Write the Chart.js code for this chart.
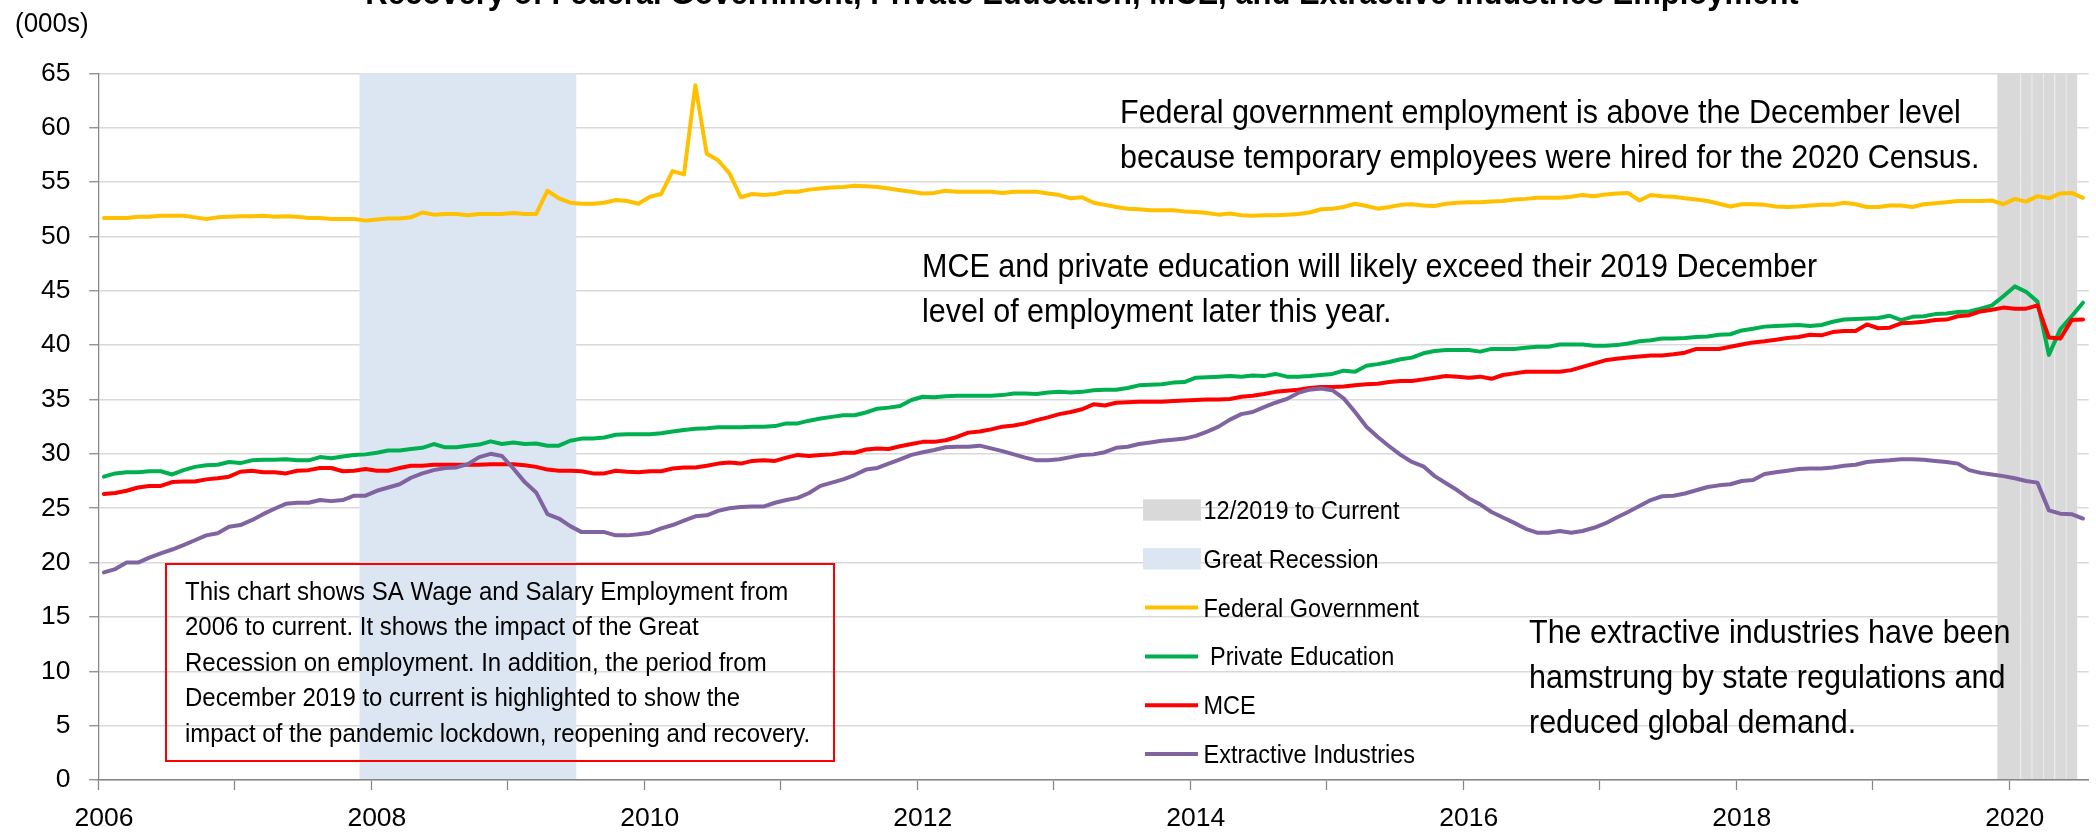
<!DOCTYPE html>
<html>
<head>
<meta charset="utf-8">
<script src="https://cdn.jsdelivr.net/npm/chart.js@4.4.1/dist/chart.umd.min.js"></script>
<style>
  html, body { margin: 0; padding: 0; background: #fff; overflow: hidden; }
  #wrap { width: 2096px; height: 834px; }
</style>
</head>
<body>
<div id="wrap"><canvas id="chart" width="2096" height="834"></canvas></div>
<script>
// monthly SA wage & salary employment, thousands, Jan 2006 - Jul 2020
const monthNames = ['Jan','Feb','Mar','Apr','May','Jun','Jul','Aug','Sep','Oct','Nov','Dec'];
const firstYear = 2006;
const lastYear = 2020;
const lastYearMonths = 7;

const yearTicks = ['2006','2008','2010','2012','2014','2016','2018','2020'];

const federalGov = [
  51.7, 51.7, 51.7, 51.8, 51.8, 51.9, 51.9, 51.9, 51.75, 51.6, 51.75, 51.8,
  51.85, 51.85, 51.9, 51.8, 51.85, 51.8, 51.7, 51.7, 51.6, 51.6, 51.6, 51.45,
  51.55, 51.65, 51.65, 51.75, 52.2, 52.0, 52.05, 52.05, 51.95, 52.05, 52.05, 52.05,
  52.15, 52.05, 52.05, 54.2, 53.5, 53.1, 53.0, 53.0, 53.1, 53.35, 53.25, 53.0,
  53.65, 53.9, 56.0, 55.7, 63.9, 57.6, 57.0, 55.8, 53.6, 53.9, 53.8, 53.9,
  54.1, 54.1, 54.3, 54.4, 54.5, 54.55, 54.65, 54.6, 54.55, 54.4, 54.25, 54.1,
  53.95, 54.0, 54.2, 54.1, 54.1, 54.1, 54.1, 54.0, 54.1, 54.1, 54.1, 53.95,
  53.8, 53.5, 53.6, 53.1, 52.9, 52.7, 52.55, 52.5, 52.4, 52.4, 52.4, 52.3,
  52.25, 52.15, 52.0, 52.1, 51.95, 51.9, 51.95, 51.95, 52.0, 52.05, 52.2, 52.5,
  52.55, 52.7, 53.0, 52.8, 52.55, 52.7, 52.9, 52.95, 52.85, 52.8, 53.0, 53.1,
  53.15, 53.15, 53.2, 53.25, 53.4, 53.45, 53.55, 53.55, 53.55, 53.65, 53.8, 53.7,
  53.85, 53.95, 54.0, 53.3, 53.8, 53.7, 53.65, 53.5, 53.4, 53.25, 53.0, 52.75,
  52.95, 52.95, 52.9, 52.75, 52.7, 52.75, 52.85, 52.9, 52.9, 53.1, 52.95, 52.7,
  52.7, 52.85, 52.85, 52.7, 52.95, 53.05, 53.15, 53.25, 53.25, 53.25, 53.3, 52.95,
  53.45, 53.2, 53.7, 53.5, 53.95, 54.0, 53.55
];

const privateEdu = [
  27.9, 28.2, 28.3, 28.3, 28.4, 28.4, 28.1, 28.5, 28.8, 28.95, 29.0, 29.25,
  29.15, 29.4, 29.45, 29.45, 29.5, 29.4, 29.4, 29.7, 29.6, 29.75, 29.9, 29.95,
  30.1, 30.3, 30.3, 30.45, 30.55, 30.9, 30.6, 30.6, 30.75, 30.85, 31.15, 30.9,
  31.05, 30.9, 30.95, 30.75, 30.75, 31.2, 31.4, 31.4, 31.5, 31.75, 31.8, 31.8,
  31.8, 31.9, 32.05, 32.2, 32.3, 32.35, 32.45, 32.45, 32.45, 32.5, 32.5, 32.55,
  32.8, 32.8, 33.05, 33.25, 33.4, 33.55, 33.55, 33.8, 34.15, 34.25, 34.4, 34.95,
  35.25, 35.2, 35.3, 35.35, 35.35, 35.35, 35.35, 35.4, 35.55, 35.55, 35.5, 35.65,
  35.7, 35.65, 35.7, 35.85, 35.9, 35.9, 36.05, 36.3, 36.35, 36.4, 36.55, 36.6,
  37.0, 37.05, 37.1, 37.15, 37.1, 37.2, 37.15, 37.35, 37.1, 37.1, 37.15, 37.25,
  37.35, 37.65, 37.55, 38.1, 38.25, 38.45, 38.7, 38.85, 39.25, 39.45, 39.55, 39.55,
  39.55, 39.4, 39.65, 39.65, 39.65, 39.75, 39.85, 39.85, 40.05, 40.05, 40.05, 39.95,
  39.95, 40.0, 40.15, 40.35, 40.45, 40.6, 40.6, 40.65, 40.75, 40.8, 40.95, 41.0,
  41.35, 41.5, 41.7, 41.75, 41.8, 41.85, 41.75, 41.85, 42.15, 42.35, 42.4, 42.45,
  42.5, 42.7, 42.3, 42.6, 42.65, 42.85, 42.9, 43.05, 43.1, 43.35, 43.65, 44.5,
  45.4, 44.9, 44.0, 39.1, 41.45, 42.65, 43.9
];

const mce = [
  26.3, 26.4, 26.6, 26.9, 27.05, 27.05, 27.4, 27.45, 27.45, 27.65, 27.75, 27.9,
  28.35, 28.45, 28.3, 28.3, 28.2, 28.45, 28.5, 28.7, 28.7, 28.4, 28.45, 28.6,
  28.45, 28.45, 28.7, 28.9, 28.9, 29.0, 29.0, 29.0, 29.0, 29.0, 29.05, 29.05,
  29.05, 28.95, 28.8, 28.55, 28.45, 28.45, 28.4, 28.2, 28.2, 28.45, 28.35, 28.3,
  28.4, 28.4, 28.65, 28.75, 28.75, 28.9, 29.1, 29.2, 29.1, 29.35, 29.4, 29.35,
  29.65, 29.9, 29.8, 29.9, 29.95, 30.1, 30.1, 30.4, 30.5, 30.45, 30.7, 30.9,
  31.1, 31.1, 31.25, 31.55, 31.95, 32.05, 32.25, 32.5, 32.6, 32.8, 33.1, 33.35,
  33.65, 33.85, 34.1, 34.55, 34.45, 34.7, 34.75, 34.8, 34.8, 34.8, 34.85, 34.9,
  34.95, 35.0, 35.0, 35.05, 35.25, 35.35, 35.5, 35.7, 35.8, 35.9, 36.05, 36.15,
  36.15, 36.2, 36.3, 36.4, 36.45, 36.6, 36.7, 36.7, 36.85, 37.0, 37.15, 37.1,
  37.0, 37.1, 36.9, 37.25, 37.4, 37.55, 37.55, 37.55, 37.55, 37.7, 38.0, 38.3,
  38.6, 38.75, 38.85, 38.95, 39.05, 39.05, 39.15, 39.3, 39.65, 39.65, 39.65, 39.85,
  40.05, 40.25, 40.35, 40.5, 40.65, 40.75, 40.95, 40.9, 41.2, 41.3, 41.3, 41.9,
  41.55, 41.6, 42.0, 42.05, 42.15, 42.3, 42.35, 42.65, 42.75, 43.1, 43.25, 43.45,
  43.35, 43.35, 43.65, 40.7, 40.6, 42.3, 42.35
];

const extractive = [
  19.1, 19.4, 20.0, 20.0, 20.45, 20.85, 21.2, 21.6, 22.05, 22.5, 22.7, 23.3,
  23.45, 23.9, 24.45, 24.95, 25.4, 25.5, 25.5, 25.75, 25.65, 25.75, 26.15, 26.15,
  26.6, 26.9, 27.2, 27.8, 28.2, 28.5, 28.7, 28.75, 29.05, 29.7, 30.0, 29.8,
  28.65, 27.4, 26.45, 24.45, 24.05, 23.35, 22.8, 22.8, 22.8, 22.5, 22.5, 22.6,
  22.75, 23.15, 23.45, 23.85, 24.25, 24.35, 24.75, 25.0, 25.1, 25.15, 25.15, 25.5,
  25.75, 25.95, 26.4, 27.05, 27.35, 27.65, 28.05, 28.55, 28.7, 29.1, 29.5, 29.9,
  30.15, 30.35, 30.6, 30.65, 30.65, 30.75, 30.5, 30.25, 29.95, 29.65, 29.4, 29.4,
  29.5, 29.7, 29.9, 29.95, 30.15, 30.55, 30.65, 30.9, 31.05, 31.2, 31.3, 31.4,
  31.65, 32.05, 32.5, 33.15, 33.65, 33.85, 34.3, 34.7, 35.05, 35.6, 35.9, 36.0,
  35.85, 35.1, 33.85, 32.5, 31.55, 30.7, 29.9, 29.25, 28.85, 27.95, 27.3, 26.65,
  25.9, 25.35, 24.65, 24.15, 23.65, 23.1, 22.75, 22.75, 22.9, 22.75, 22.9, 23.2,
  23.6, 24.15, 24.65, 25.2, 25.75, 26.1, 26.15, 26.35, 26.65, 26.95, 27.1, 27.2,
  27.5, 27.6, 28.15, 28.3, 28.45, 28.6, 28.65, 28.65, 28.75, 28.9, 29.0, 29.25,
  29.35, 29.4, 29.5, 29.5, 29.45, 29.35, 29.25, 29.1, 28.5, 28.25, 28.1, 27.95,
  27.75, 27.5, 27.35, 24.8, 24.5, 24.45, 24.05
];

// shaded periods (first and last month, inclusive)
const recessionSpan = ['Dec 2007', 'Jun 2009'];
const pandemicSpan = ['Dec 2019', 'Jun 2020'];
const yMax = 65;

const months = [];
for (let y = firstYear; y <= lastYear; y++) {
  const n = y === lastYear ? lastYearMonths : 12;
  for (let m = 0; m < n; m++) months.push(monthNames[m] + ' ' + y);
}

function band(span) {
  const a = months.indexOf(span[0]);
  const b = months.indexOf(span[1]);
  return months.map((m, i) => (i >= a && i <= b) ? yMax : null);
}

const recessionBand = band(recessionSpan);
const pandemicBand = band(pandemicSpan);
const pandemicStart = months.indexOf(pandemicSpan[0]);

const FONT = "'Liberation Sans', Arial, Helvetica, sans-serif";
Chart.defaults.font.family = FONT;
Chart.defaults.color = '#000';

const titleText = 'Recovery of Federal Government, Private Education, MCE, and Extractive Industries Employment';

const notes = [
  { x: 1120, y: 123, lines: ['Federal government employment is above the December level',
                             'because temporary employees were hired for the 2020 Census.'] },
  { x: 922, y: 277, lines: ['MCE and private education will likely exceed their 2019 December',
                            'level of employment later this year.'] },
  { x: 1529, y: 643, lines: ['The extractive industries have been',
                             'hamstrung by state regulations and',
                             'reduced global demand.'] }
];

const boxLines = [
  'This chart shows SA Wage and Salary Employment from',
  '2006 to current. It shows the impact of the Great',
  'Recession on employment. In addition, the period from',
  'December 2019 to current is highlighted to show the',
  'impact of the pandemic lockdown, reopening and recovery.'
];

const legendOrder = ['12/2019 to Current', 'Great Recession', 'Federal Government',
                     ' Private Education', 'MCE', 'Extractive Industries'];

// the source renders its text a little taller than plain Arial
const STRETCH = 1.06;
function tallText(ctx, t, x, y) {
  ctx.save();
  ctx.translate(x, y);
  ctx.scale(1, STRETCH);
  ctx.fillText(t, 0, 0);
  ctx.restore();
}

const textPlugin = {
  id: 'textPlugin',
  afterDatasetsDraw(chart) {
    const ctx = chart.ctx;
    ctx.save();
    ctx.fillStyle = '#000';
    ctx.textBaseline = 'alphabetic';

    // title (cut off by the top edge)
    ctx.font = 'bold 31px ' + FONT;
    ctx.textAlign = 'center';
    tallText(ctx, titleText, 1082, 4);

    ctx.textAlign = 'left';
    ctx.font = '26px ' + FONT;
    tallText(ctx, '(000s)', 15, 32);

    ctx.font = '30.5px ' + FONT;
    notes.forEach(n => {
      n.lines.forEach((t, i) => tallText(ctx, t, n.x, n.y + i * 45));
    });

    // red text box
    ctx.strokeStyle = '#FF0000';
    ctx.lineWidth = 2;
    ctx.strokeRect(166, 564, 668, 197);
    ctx.font = '24px ' + FONT;
    boxLines.forEach((t, i) => tallText(ctx, t, 185, 600 + i * 35.4));
    ctx.restore();
  },
  afterDraw(chart) {
    const ctx = chart.ctx;
    ctx.save();
    ctx.font = '23.5px ' + FONT;
    ctx.textBaseline = 'alphabetic';
    ctx.textAlign = 'left';
    legendOrder.forEach((label, i) => {
      const ds = chart.data.datasets.find(d => d.label === label);
      const cy = 510 + i * 48.8;
      if (ds.type === 'bar') {
        ctx.fillStyle = ds.backgroundColor;
        ctx.fillRect(1143, cy - 10.7, 58, 21.4);
      } else {
        ctx.strokeStyle = ds.borderColor;
        ctx.lineWidth = 4;
        ctx.beginPath();
        ctx.moveTo(1145, cy);
        ctx.lineTo(1198, cy);
        ctx.stroke();
      }
      ctx.fillStyle = '#000';
      tallText(ctx, label, 1203.5, cy + 9);
    });
    ctx.restore();
  }
};

const lineStyle = {
  type: 'line',
  borderWidth: 4,
  pointRadius: 0,
  tension: 0,
  borderJoinStyle: 'round',
  borderCapStyle: 'round',
  fill: false
};

new Chart(document.getElementById('chart'), {
  type: 'line',
  data: {
    labels: months,
    datasets: [
      Object.assign({}, lineStyle, { label: 'Federal Government', data: federalGov, borderColor: '#FFC000', order: 4 }),
      Object.assign({}, lineStyle, { label: ' Private Education', data: privateEdu, borderColor: '#00B050', order: 3 }),
      Object.assign({}, lineStyle, { label: 'MCE', data: mce, borderColor: '#FF0000', order: 2 }),
      Object.assign({}, lineStyle, { label: 'Extractive Industries', data: extractive, borderColor: '#8064A2', order: 1 }),
      {
        type: 'bar', label: '12/2019 to Current', data: pandemicBand,
        backgroundColor: '#D9D9D9', borderColor: '#EFEFEF',
        borderWidth: c => c.dataIndex > pandemicStart + 1 ? { left: 1, top: 0, right: 0, bottom: 0 } : 0,
        grouped: false, barPercentage: 1, categoryPercentage: 1, order: 10
      },
      {
        type: 'bar', label: 'Great Recession', data: recessionBand,
        backgroundColor: '#DCE6F2', borderWidth: 0,
        grouped: false, barPercentage: 1, categoryPercentage: 1, order: 11
      }
    ]
  },
  options: {
    responsive: false,
    animation: false,
    devicePixelRatio: 1,
    events: [],
    layout: { padding: { top: 73.3, left: 0, right: 0, bottom: 0 } },
    plugins: {
      legend: { display: false },
      title: { display: false },
      tooltip: { enabled: false }
    },
    scales: {
      x: {
        type: 'category',
        offset: true,
        grid: {
          offset: true,
          drawOnChartArea: false,
          drawTicks: true,
          tickLength: 10,
          tickWidth: 1.25,
          tickColor: c => (c.index !== undefined && c.index % 12 === 0) ? '#868686' : 'rgba(0,0,0,0)'
        },
        border: { display: true, color: '#868686', width: 1.5, z: 1 },
        ticks: {
          autoSkip: false,
          maxRotation: 0,
          minRotation: 0,
          padding: 13,
          font: { size: 26.5 },
          color: '#000',
          callback: (v, i) => i % 24 === 0 ? yearTicks[i / 24] : ''
        },
        afterFit: s => { s.height = 54; }
      },
      y: {
        min: 0,
        max: yMax,
        ticks: { stepSize: 5, padding: 18.7, font: { size: 26.5 }, color: '#000' },
        grid: { color: '#D9D9D9', lineWidth: 1.5, tickLength: 9, tickColor: '#868686', tickWidth: 1.25 },
        border: { display: true, color: '#868686', width: 1.25 },
        afterFit: s => { s.width = 98.2; }
      }
    }
  },
  plugins: [textPlugin]
});
</script>
</body>
</html>
